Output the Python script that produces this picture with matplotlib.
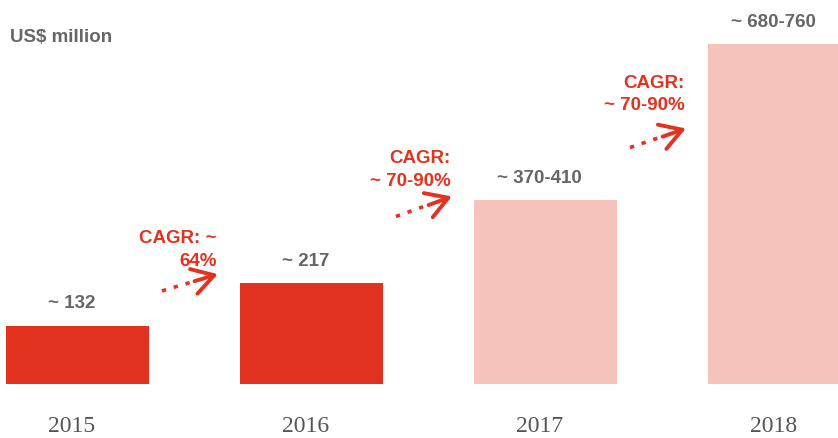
import matplotlib.pyplot as plt

years = ['2015', '2016', '2017', '2018']
heights = [125, 217, 395, 730]          # bar heights as drawn
value_labels = ['~ 132', '~ 217', '~ 370-410', '~ 680-760']
bar_colors = ['#E0321F', '#E0321F', '#F6C2BC', '#F6C2BC']
cagr_labels = ['CAGR: ~\n64%', 'CAGR:\n~ 70-90%', 'CAGR:\n~ 70-90%']

red = '#E3321F'
grey = '#666666'

fig = plt.figure(figsize=(8.38, 4.38), dpi=100)
ax = fig.add_axes([0, 0, 1, 1])
ax.set_xlim(-0.325, 3.256)
ax.set_ylim(-116, 825)
ax.axis('off')

x = range(len(years))
ax.bar([i + 0.005 for i in x], heights, width=0.61, color=bar_colors)

for i, (h, lab) in enumerate(zip(heights, value_labels)):
    ax.text(i - 0.02, h + 47, lab, ha='center', va='center', fontsize=13.5,
            fontweight='bold', color=grey, family='Liberation Sans')
    ax.text(i - 0.02, -92, years[i], ha='center', va='center', fontsize=17,
            color='#555555', family='Liberation Serif')

# CAGR annotations between bars: text block just left of the arrow tip
for i, lab in enumerate(cagr_labels):
    y_txt = [287, 459, 622][i]
    ax.text(i + 0.602, y_txt, lab, ha='right', va='center', fontsize=13.5,
            fontweight='bold', color=red, family='Liberation Sans',
            linespacing=1.45)
    x0, y0 = i + 0.367, [200, 360, 508][i]
    x1, y1 = i + 0.606, [236, 403, 549][i]
    xm, ym = x0 + 0.5 * (x1 - x0), y0 + 0.5 * (y1 - y0)
    ax.plot([x0, xm], [y0, ym], color=red, lw=2.6,
            linestyle=(0, (1.2, 2.2)), solid_capstyle='butt')
    ax.annotate('', xy=(x1, y1), xytext=(xm + 0.02, ym + 3),
                arrowprops=dict(arrowstyle='->,head_length=0.7,head_width=0.42',
                                color=red, lw=2.8, mutation_scale=22,
                                shrinkA=0, shrinkB=0))

fig.text(0.012, 0.915, 'US$ million', fontsize=13.5, fontweight='bold',
         color=grey, family='Liberation Sans', va='center')

fig.savefig('out.png', dpi=100)
